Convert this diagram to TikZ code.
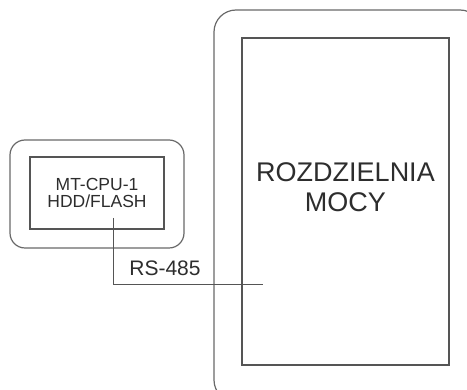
\documentclass[tikz,border=0pt]{standalone}
\usepackage{fontspec}
\setmainfont{Liberation Sans}
\usetikzlibrary{positioning}
\definecolor{framegray}{RGB}{105,105,105}
\definecolor{boxgray}{RGB}{85,85,85}
\definecolor{txtgray}{RGB}{45,45,45}

\begin{document}
\begin{tikzpicture}[x=1pt, y=-1pt,
  outer/.style={draw=framegray, line width=1.2pt, rounded corners=#1,
                anchor=north west, inner sep=0pt, outer sep=0pt},
  unit/.style={draw=boxgray, line width=1.1pt, anchor=north west,
               inner sep=0pt, outer sep=0pt, align=center, text=txtgray},
  bus/.style={draw=boxgray, line width=1pt},
  lbl/.style={text=txtgray, inner sep=0pt}
]
\useasboundingbox (0,0) rectangle (467,390);

% szafa sterownika
\node[outer=15pt, minimum width=174pt, minimum height=108pt] (cab) at (10,140) {};
\node[unit, minimum width=134pt, minimum height=72pt,
      font=\fontsize{17.5}{20}\selectfont] (cpu) at (30,157)
      {\raisebox{-3pt}{\shortstack{MT-CPU-1\\[1pt]HDD/FLASH}}};

% rozdzielnia
\node[outer=22pt, minimum width=268pt, minimum height=392pt] (rdo) at (214,10) {};
\node[unit, minimum width=207pt, minimum height=327pt] (rd) at (242,38) {};
\node[lbl, align=center, font=\fontsize{27}{30}\selectfont,
      yshift=14pt] (rdtxt) at (rd.center) {ROZDZIELNIA\\MOCY};

% magistrala
\coordinate (tap) at (113,218);
\coordinate (sink) at (263,285);
\draw[bus] (tap) |- (sink);
\node[lbl, anchor=base, font=\fontsize{21}{24}\selectfont] (rs) at (165,276) {RS-485};
\end{tikzpicture}
\end{document}
